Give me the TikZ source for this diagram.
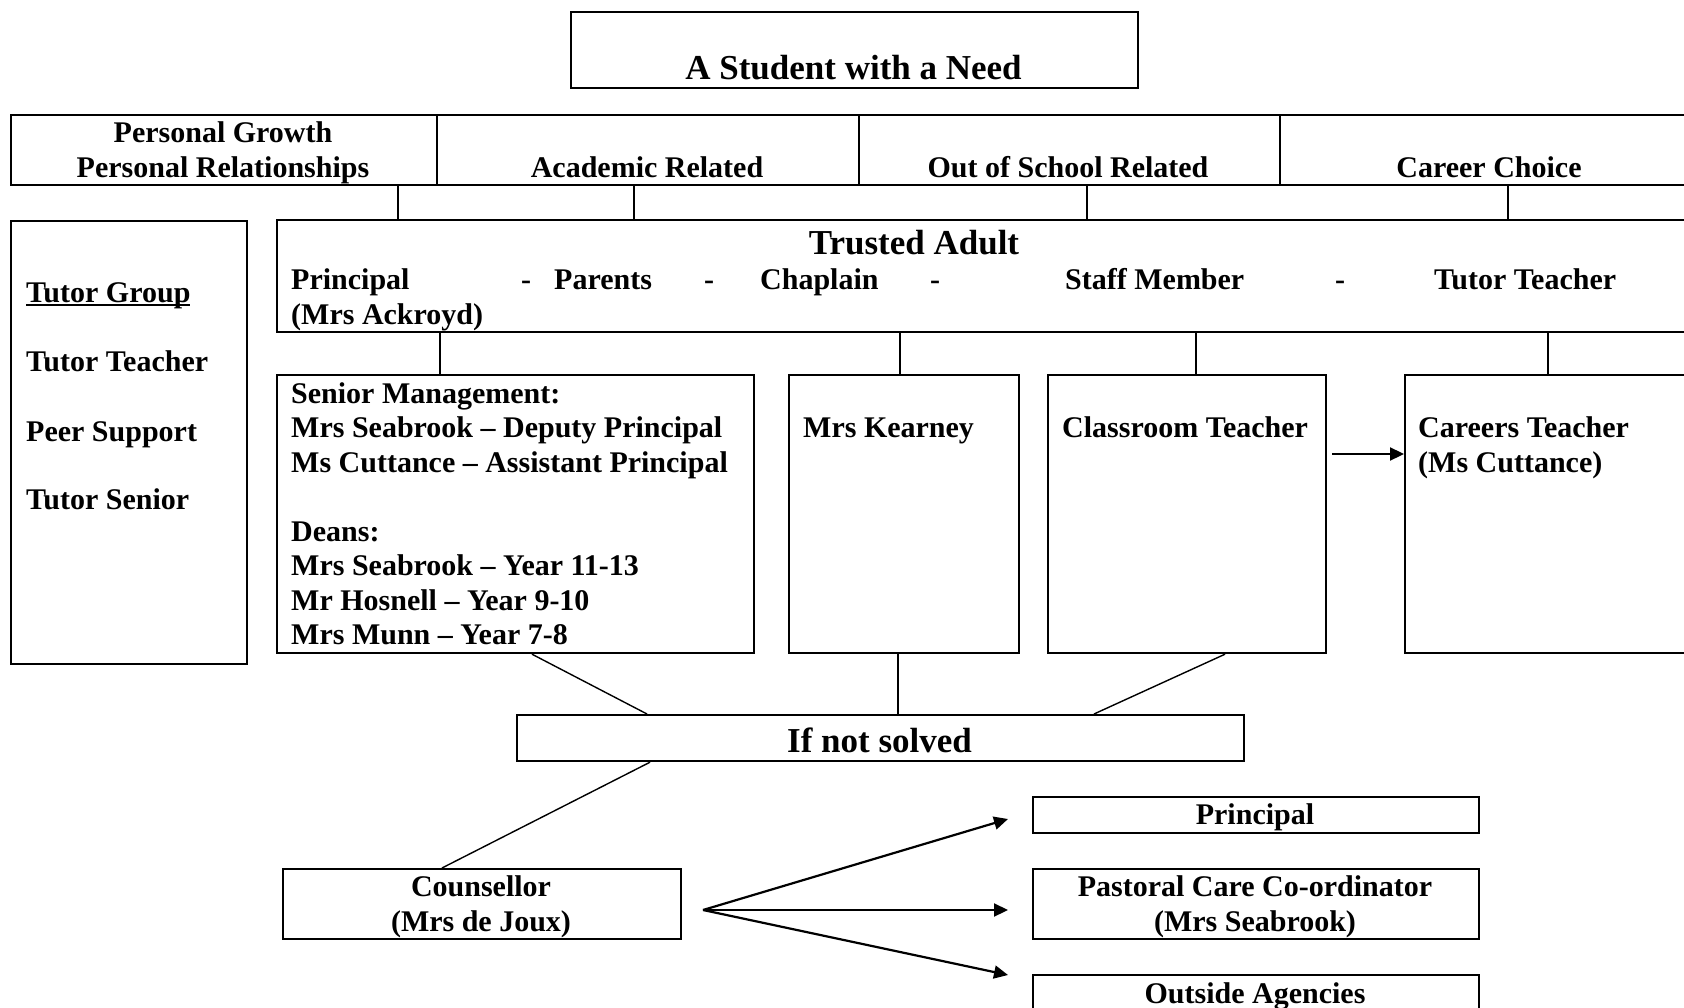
\documentclass[tikz,border=0pt]{standalone}
\usepackage{fontspec}
\setmainfont{Liberation Serif}
\usetikzlibrary{arrows.meta}
\newcommand{\tgul}[1]{\setbox0=\hbox{#1}\rlap{\vrule height -1.5pt depth 3.5pt width \wd0}\box0}
\begin{document}
\begin{tikzpicture}[x=1pt,y=-1pt,
  box/.style={draw, line width=2.2pt, inner sep=0pt, anchor=north west},
  tl/.style={font=\fontsize{30}{34.5}\selectfont\bfseries, inner sep=0pt, anchor=base west},
  tc/.style={tl, anchor=base},
  big/.style={font=\fontsize{35}{40}\selectfont\bfseries, inner sep=0pt, anchor=base},
  conn/.style={line width=1.4pt},
  arr/.style={line width=2.2pt, -{Triangle[length=14pt,width=13pt]}}]
\useasboundingbox (0,0) rectangle (1684,1008);
\clip (0,0) rectangle (1684,1008);
\fill[white] (0,0) rectangle (1684,1008);

% boxes
\node[box, minimum width=567pt, minimum height=76pt] (title) at (570,11) {};
\node[box, minimum width=426pt, minimum height=70pt] (c1) at (10,114) {};
\node[box, minimum width=422pt, minimum height=70pt] (c2) at (436,114) {};
\node[box, minimum width=421pt, minimum height=70pt] (c3) at (858,114) {};
\node[box, minimum width=420pt, minimum height=70pt] (c4) at (1279,114) {};
\node[box, minimum width=236pt, minimum height=443pt] (tg) at (10,220) {};
\node[box, minimum width=1430pt, minimum height=112pt] (ta) at (276,219) {};
\node[box, minimum width=477pt, minimum height=278pt] (sm) at (276,374) {};
\node[box, minimum width=230pt, minimum height=278pt] (mk) at (788,374) {};
\node[box, minimum width=278pt, minimum height=278pt] (ct) at (1047,374) {};
\node[box, minimum width=320pt, minimum height=278pt] (ca) at (1404,374) {};
\node[box, minimum width=727pt, minimum height=46pt] (ins) at (516,714) {};
\node[box, minimum width=398pt, minimum height=70pt] (co) at (282,868) {};
\node[box, minimum width=446pt, minimum height=36pt] (pr) at (1032,796) {};
\node[box, minimum width=446pt, minimum height=70pt] (pc) at (1032,868) {};
\node[box, minimum width=446pt, minimum height=60pt] (oa) at (1032,974) {};

% texts
\node[big] (titlet) at (853.5,80) {A Student with a Need};
\node[tc] (c1a) at (223,143) {Personal Growth};
\node[tc] (c1b) at (223,178) {Personal Relationships};
\node[tc] (c2t) at (647,178) {Academic Related};
\node[tc] (c3t) at (1068,178) {Out of School Related};
\node[tc] (c4t) at (1489,178) {Career Choice};

\node[tl] (tg1) at (26,302) {\tgul{Tutor Group}};
\node[tl] (tg2) at (26,371) {Tutor Teacher};
\node[tl] (tg3) at (26,441) {Peer Support};
\node[tl] (tg4) at (26,509) {Tutor Senior};

\node[big] (tat) at (914,255) {Trusted Adult};
\node[tl] (ta1) at (291,290) {Principal};
\node[tl] (ta2) at (521,290) {-};
\node[tl] (ta3) at (554,290) {Parents};
\node[tl] (ta4) at (704,290) {-};
\node[tl] (ta5) at (760,290) {Chaplain};
\node[tl] (ta6) at (930,290) {-};
\node[tl] (ta7) at (1065,290) {Staff Member};
\node[tl] (ta8) at (1335,290) {-};
\node[tl] (ta9) at (1434,290) {Tutor Teacher};
\node[tl] (ta10) at (291,325) {(Mrs Ackroyd)};

\node[tl] (sm1) at (291,403) {Senior Management:};
\node[tl] (sm2) at (291,437.5) {Mrs Seabrook – Deputy Principal};
\node[tl] (sm3) at (291,472) {Ms Cuttance – Assistant Principal};
\node[tl] (sm4) at (291,541) {Deans:};
\node[tl] (sm5) at (291,575.5) {Mrs Seabrook – Year 11-13};
\node[tl] (sm6) at (291,610) {Mr Hosnell – Year 9-10};
\node[tl] (sm7) at (291,644.5) {Mrs Munn – Year 7-8};

\node[tl] (mkt) at (803,437) {Mrs Kearney};
\node[tl] (ctt) at (1062,437) {Classroom Teacher};
\node[tl] (ca1) at (1418,437) {Careers Teacher};
\node[tl] (ca2) at (1418,472) {(Ms Cuttance)};

\node[big] (inst) at (879.5,752) {If not solved};
\node[tc] (co1) at (481,896) {Counsellor};
\node[tc] (co2) at (481,931) {(Mrs de Joux)};
\node[tc] (prt) at (1255,824) {Principal};
\node[tc] (pc1) at (1255,896) {Pastoral Care Co-ordinator};
\node[tc] (pc2) at (1255,931) {(Mrs Seabrook)};
\node[tc] (oat) at (1255,1003) {Outside Agencies};

% connectors
\draw[conn] (398,0 |- c1.south) -- (398,0 |- ta.north);
\draw[conn] (634,0 |- c2.south) -- (634,0 |- ta.north);
\draw[conn] (1087,0 |- c3.south) -- (1087,0 |- ta.north);
\draw[conn] (1508,0 |- c4.south) -- (1508,0 |- ta.north);

\draw[conn] (440,0 |- ta.south) -- (440,0 |- sm.north);
\draw[conn] (900,0 |- ta.south) -- (900,0 |- mk.north);
\draw[conn] (1196,0 |- ta.south) -- (1196,0 |- ct.north);
\draw[conn] (1548,0 |- ta.south) -- (1548,0 |- ca.north);

\draw[arr] (1332,0 |- 0,454) -- (ca.west |- 0,454);

\draw[conn] (532,0 |- sm.south) -- (647,0 |- ins.north);
\draw[conn] (898,0 |- mk.south) -- (898,0 |- ins.north);
\draw[conn] (1225,0 |- ct.south) -- (1094,0 |- ins.north);
\draw[conn] (650,0 |- ins.south) -- (442,0 |- co.north);

\coordinate (fan) at (703,910);
\coordinate (e1) at (1008,819);
\coordinate (e2) at (1008,910);
\coordinate (e3) at (1008,975);
\draw[arr] (fan) -- (e1);
\draw[arr] (fan) -- (e2);
\draw[arr] (fan) -- (e3);
\end{tikzpicture}
\end{document}
